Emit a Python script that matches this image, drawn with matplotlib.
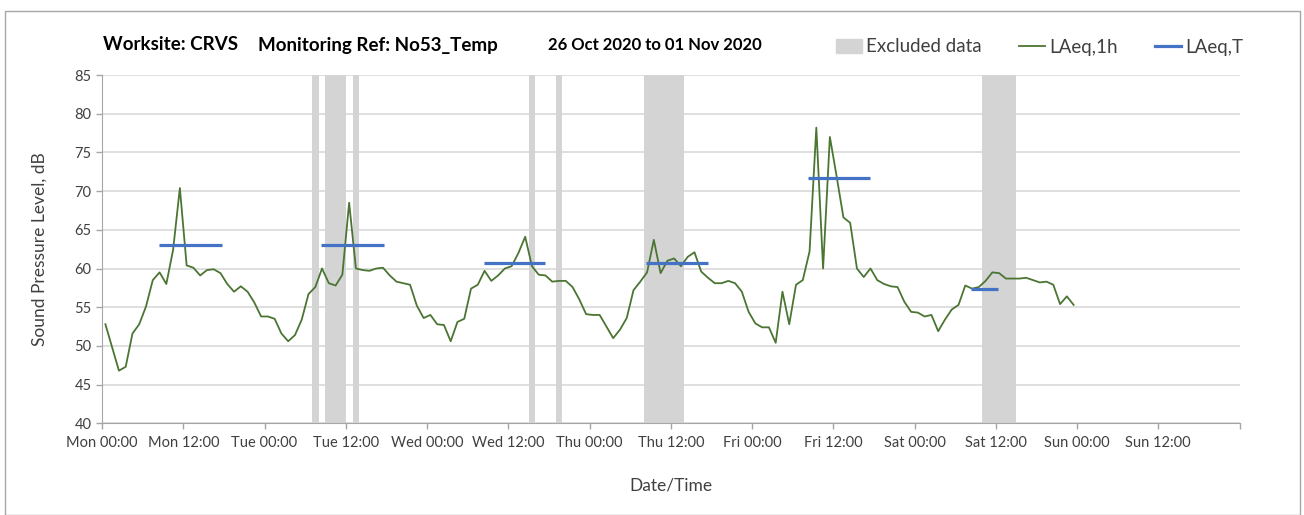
import numpy as np
import matplotlib
matplotlib.use("Agg")
import matplotlib.pyplot as plt
from matplotlib.patches import Patch, Rectangle
from matplotlib.lines import Line2D

plt.rcParams['font.family'] = ['Lato', 'DejaVu Sans']

# hourly LAeq,1h values, first value centred at 00:30 Monday
laeq_1h = [52.8, 49.8, 46.8, 47.3, 51.6, 52.8, 55.1, 58.5, 59.5, 58.0, 62.4, 70.4,
           60.4, 60.1, 59.1, 59.8, 59.9, 59.4, 58.0, 57.0, 57.7, 57.0, 55.6, 53.8,
           53.8, 53.5, 51.6, 50.6, 51.4, 53.4, 56.7, 57.6, 60.0, 58.1, 57.8, 59.2,
           68.5, 60.0, 59.8, 59.7, 60.0, 60.1, 59.1, 58.3, 58.1, 57.9, 55.2, 53.6,
           54.0, 52.8, 52.7, 50.6, 53.1, 53.5, 57.4, 57.9, 59.7, 58.4, 59.1, 60.0,
           60.3, 62.0, 64.1, 60.3, 59.2, 59.1, 58.3, 58.4, 58.4, 57.6, 56.0, 54.1,
           54.0, 54.0, 52.5, 51.0, 52.1, 53.6, 57.2, 58.3, 59.5, 63.7, 59.4, 61.0,
           61.3, 60.3, 61.5, 62.1, 59.6, 58.8, 58.1, 58.1, 58.4, 58.1, 57.0, 54.4,
           52.9, 52.4, 52.4, 50.4, 57.0, 52.8, 57.9, 58.5, 62.2, 78.2, 60.0, 77.0,
           71.9, 66.6, 65.9, 60.0, 58.9, 60.0, 58.5, 58.0, 57.7, 57.6, 55.7, 54.4,
           54.3, 53.8, 54.0, 51.9, 53.4, 54.7, 55.3, 57.8, 57.4, 57.6, 58.4, 59.5,
           59.4, 58.7, 58.7, 58.7, 58.8, 58.5, 58.2, 58.3, 57.9, 55.4, 56.4, 55.3]
hours = np.arange(len(laeq_1h)) + 0.5

# LAeq,T periods (start hour, end hour, level)
laeq_t_start = [8.4, 32.4, 56.4, 80.4, 104.3, 128.3]
laeq_t_end = [17.7, 41.7, 65.5, 89.5, 113.5, 132.4]
laeq_t_level = [63.0, 63.0, 60.7, 60.7, 71.7, 57.4]

# excluded data periods (hours from Mon 00:00)
excl_start = [31, 33, 37, 63, 67, 80, 130]
excl_end = [32, 36, 38, 64, 68, 86, 135]

tick_hours = list(range(0, 169, 12))
days = ["Mon", "Tue", "Wed", "Thu", "Fri", "Sat", "Sun"]
tick_labels = [f"{d} {t}" for d in days for t in ("00:00", "12:00")] + [""]

green = "#4b7533"
blue = "#4472c4"
grey_band = "#d4d4d4"
txt = "#404040"

fig = plt.figure(figsize=(13.04, 5.15), dpi=100)
ax = fig.add_axes([102/1304, 1-423.3/515, (1239.5-102)/1304, (423.3-75)/515])

for s, e in zip(excl_start, excl_end):
    ax.axvspan(s, e, color=grey_band, lw=0, zorder=1)

ax.plot(hours, laeq_1h, color=green, lw=1.3, zorder=3)
ax.hlines(laeq_t_level, laeq_t_start, laeq_t_end, color=blue, lw=2.3, zorder=4)

ax.set_xlim(0, 168)
ax.set_ylim(40, 85)
ax.set_yticks(range(40, 86, 5))
ax.set_xticks(tick_hours)
ax.set_xticklabels(tick_labels)
ax.set_xticks(range(0, 169, 24), minor=True)
ax.tick_params(axis='x', which='minor', length=0)
ax.tick_params(axis='both', which='major', colors="#a6a6a6", labelcolor=txt,
               labelsize=10.5, length=4, width=1)
ax.tick_params(axis='x', which='major', pad=5)
ax.grid(axis='y', color="#d9d9d9", lw=1.2, zorder=0)
ax.grid(axis='x', which='minor', color="#d9d9d9", lw=1.2, zorder=0)
ax.set_axisbelow(True)
for side in ("top", "right"):
    ax.spines[side].set_visible(False)
ax.spines['left'].set_color("#a6a6a6")
ax.spines['bottom'].set_color("#a6a6a6")
ax.spines['left'].set_zorder(5)
ax.spines['bottom'].set_zorder(5)

ax.set_ylabel("Sound Pressure Level, dB", fontsize=12.5, color=txt, labelpad=19)
ax.set_xlabel("Date/Time", fontsize=12.5, color=txt, labelpad=20)

title_y = 1 - 45/515
fig.text(103/1304, title_y, "Worksite: CRVS", fontsize=13.5, fontweight='bold', va='center')
fig.text(258/1304, title_y, "Monitoring Ref: No53_Temp", fontsize=13.5, fontweight='bold', va='center')
fig.text(548/1304, title_y, "26 Oct 2020 to 01 Nov 2020", fontsize=12, fontweight='bold', va='center')

handles = [Patch(color=grey_band, label="Excluded data"),
           Line2D([], [], color=green, lw=1.3, label="LAeq,1h"),
           Line2D([], [], color=blue, lw=2.3, label="LAeq,T")]
fig.legend(handles=handles, loc='center left', bbox_to_anchor=(819/1304, 1-47/515),
           ncol=3, frameon=False, fontsize=13.5, handlelength=1.4, handletextpad=0.2,
           columnspacing=2.0, labelcolor=txt)

fig.patches.append(Rectangle((5/1304, 0), 1295/1304, 1-11/515, transform=fig.transFigure,
                             fill=False, edgecolor="#a6a6a6", lw=1))

fig.savefig("out.png", dpi=100)
